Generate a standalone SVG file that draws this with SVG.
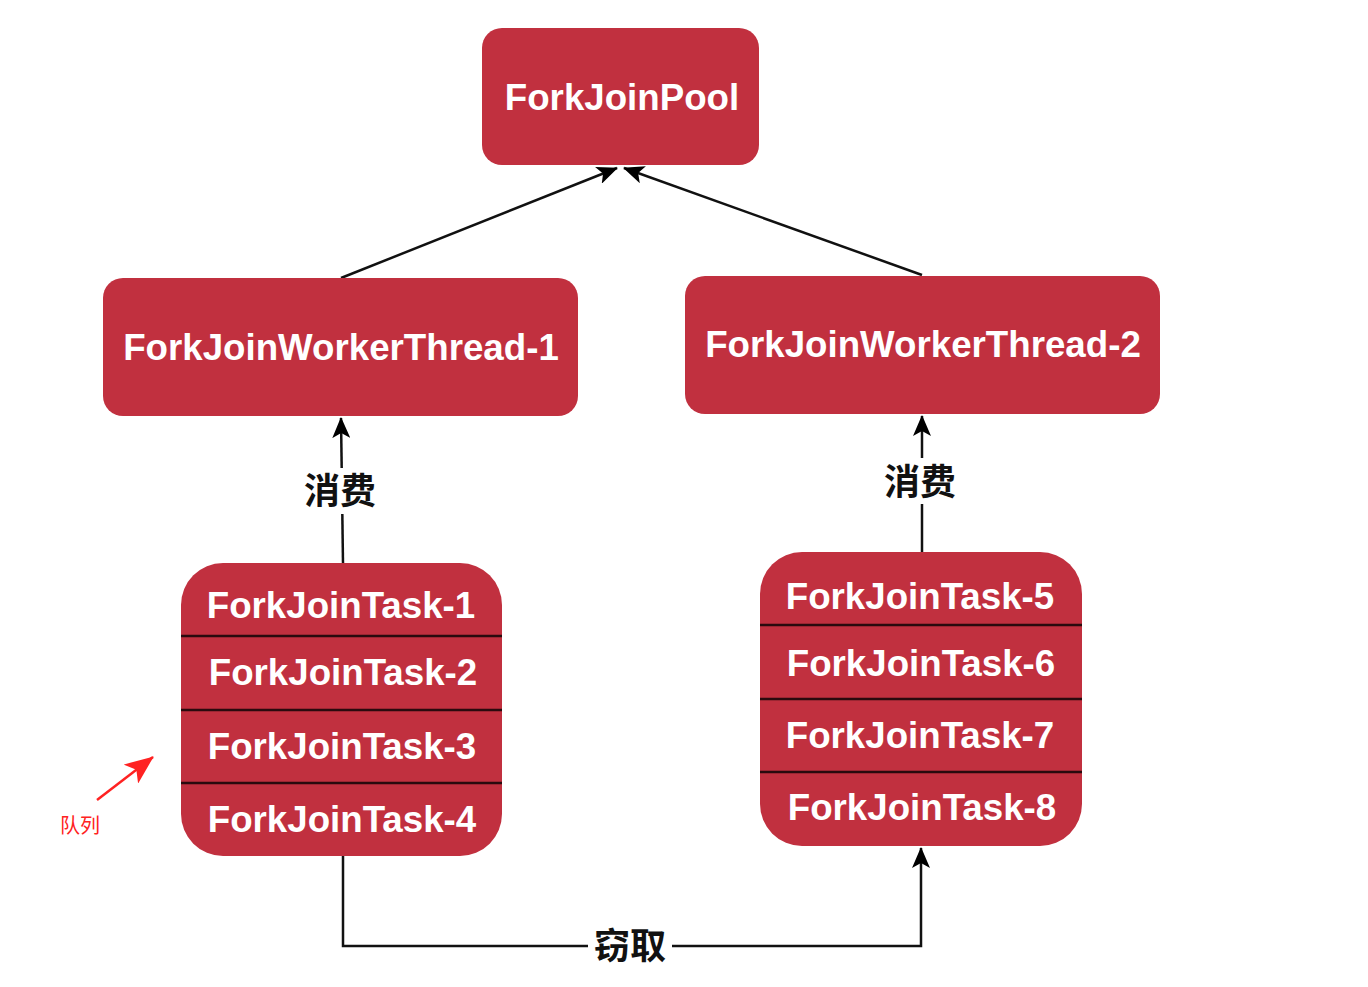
<svg xmlns="http://www.w3.org/2000/svg" width="1368" height="987" viewBox="0 0 1368 987">
<defs>
<marker id="ah" markerWidth="22" markerHeight="18" refX="20" refY="9" orient="auto" markerUnits="userSpaceOnUse">
<path d="M0,0 L21,9 L0,18 L5,9 Z" fill="#000"/>
</marker>
<marker id="ahr" markerWidth="30" markerHeight="24" refX="28" refY="12" orient="auto" markerUnits="userSpaceOnUse">
<path d="M0,0 L29,12 L0,24 L7,12 Z" fill="#f22"/>
</marker>
<style>
.box{fill:#c1303f;}
.t{font-family:"Liberation Sans",Arial,sans-serif;font-weight:bold;font-size:36.7px;fill:#fff;text-anchor:middle;}
.div{stroke:#2a0a0e;stroke-width:2.5;}
.c{stroke:#111;stroke-width:2.5;fill:none;}
.lbl{font-family:"Noto Sans CJK SC",sans-serif;font-weight:bold;font-size:36px;fill:#111;text-anchor:middle;}
</style>
</defs>
<rect width="1368" height="987" fill="#fff"/>
<g id="connectors">
<line class="c" x1="341" y1="278" x2="617" y2="168" marker-end="url(#ah)"/>
<line class="c" x1="922" y1="275" x2="624" y2="168" marker-end="url(#ah)"/>
<line class="c" x1="343" y1="563" x2="341" y2="418" marker-end="url(#ah)"/>
<line class="c" x1="922" y1="552" x2="922" y2="416" marker-end="url(#ah)"/>
<polyline class="c" points="343,856 343,946 921,946 921,848" marker-end="url(#ah)"/>
<rect x="298" y="468" width="86" height="46" fill="#fff"/>
<rect x="878" y="458" width="86" height="46" fill="#fff"/>
<rect x="588" y="926" width="84" height="40" fill="#fff"/>
<text class="lbl" x="340" y="504">消费</text>
<text class="lbl" x="920" y="495">消费</text>
<text class="lbl" x="630" y="959">窃取</text>
<line x1="97" y1="800" x2="153" y2="757" stroke="#f22" stroke-width="2.5" marker-end="url(#ahr)"/>
<text x="80" y="833" font-family="Noto Sans CJK SC,sans-serif" font-size="20" fill="#f22" text-anchor="middle">队列</text>
</g>
<g id="pool">
<rect class="box" x="482" y="28" width="277" height="137" rx="20"/>
<text class="t" x="622" y="110" font-size="37.2">ForkJoinPool</text>
</g>
<g id="thread1">
<rect class="box" x="103" y="278" width="475" height="138" rx="20"/>
<text class="t" x="341" y="360" font-size="37.4">ForkJoinWorkerThread-1</text>
</g>
<g id="thread2">
<rect class="box" x="685" y="276" width="475" height="138" rx="20"/>
<text class="t" x="923" y="357" font-size="37.4">ForkJoinWorkerThread-2</text>
</g>
<g id="queue1">
<rect class="box" x="181" y="563" width="321" height="293" rx="42"/>
<line class="div" x1="181" y1="636" x2="502" y2="636"/>
<line class="div" x1="181" y1="710" x2="502" y2="710"/>
<line class="div" x1="181" y1="783" x2="502" y2="783"/>
<text class="t" x="341" y="618">ForkJoinTask-1</text>
<text class="t" x="343" y="685">ForkJoinTask-2</text>
<text class="t" x="342" y="759">ForkJoinTask-3</text>
<text class="t" x="342" y="832">ForkJoinTask-4</text>
</g>
<g id="queue2">
<rect class="box" x="760" y="552" width="322" height="294" rx="42"/>
<line class="div" x1="760" y1="625" x2="1082" y2="625"/>
<line class="div" x1="760" y1="699" x2="1082" y2="699"/>
<line class="div" x1="760" y1="772" x2="1082" y2="772"/>
<text class="t" x="920" y="609">ForkJoinTask-5</text>
<text class="t" x="921" y="676">ForkJoinTask-6</text>
<text class="t" x="920" y="748">ForkJoinTask-7</text>
<text class="t" x="922" y="820">ForkJoinTask-8</text>
</g>
</svg>
